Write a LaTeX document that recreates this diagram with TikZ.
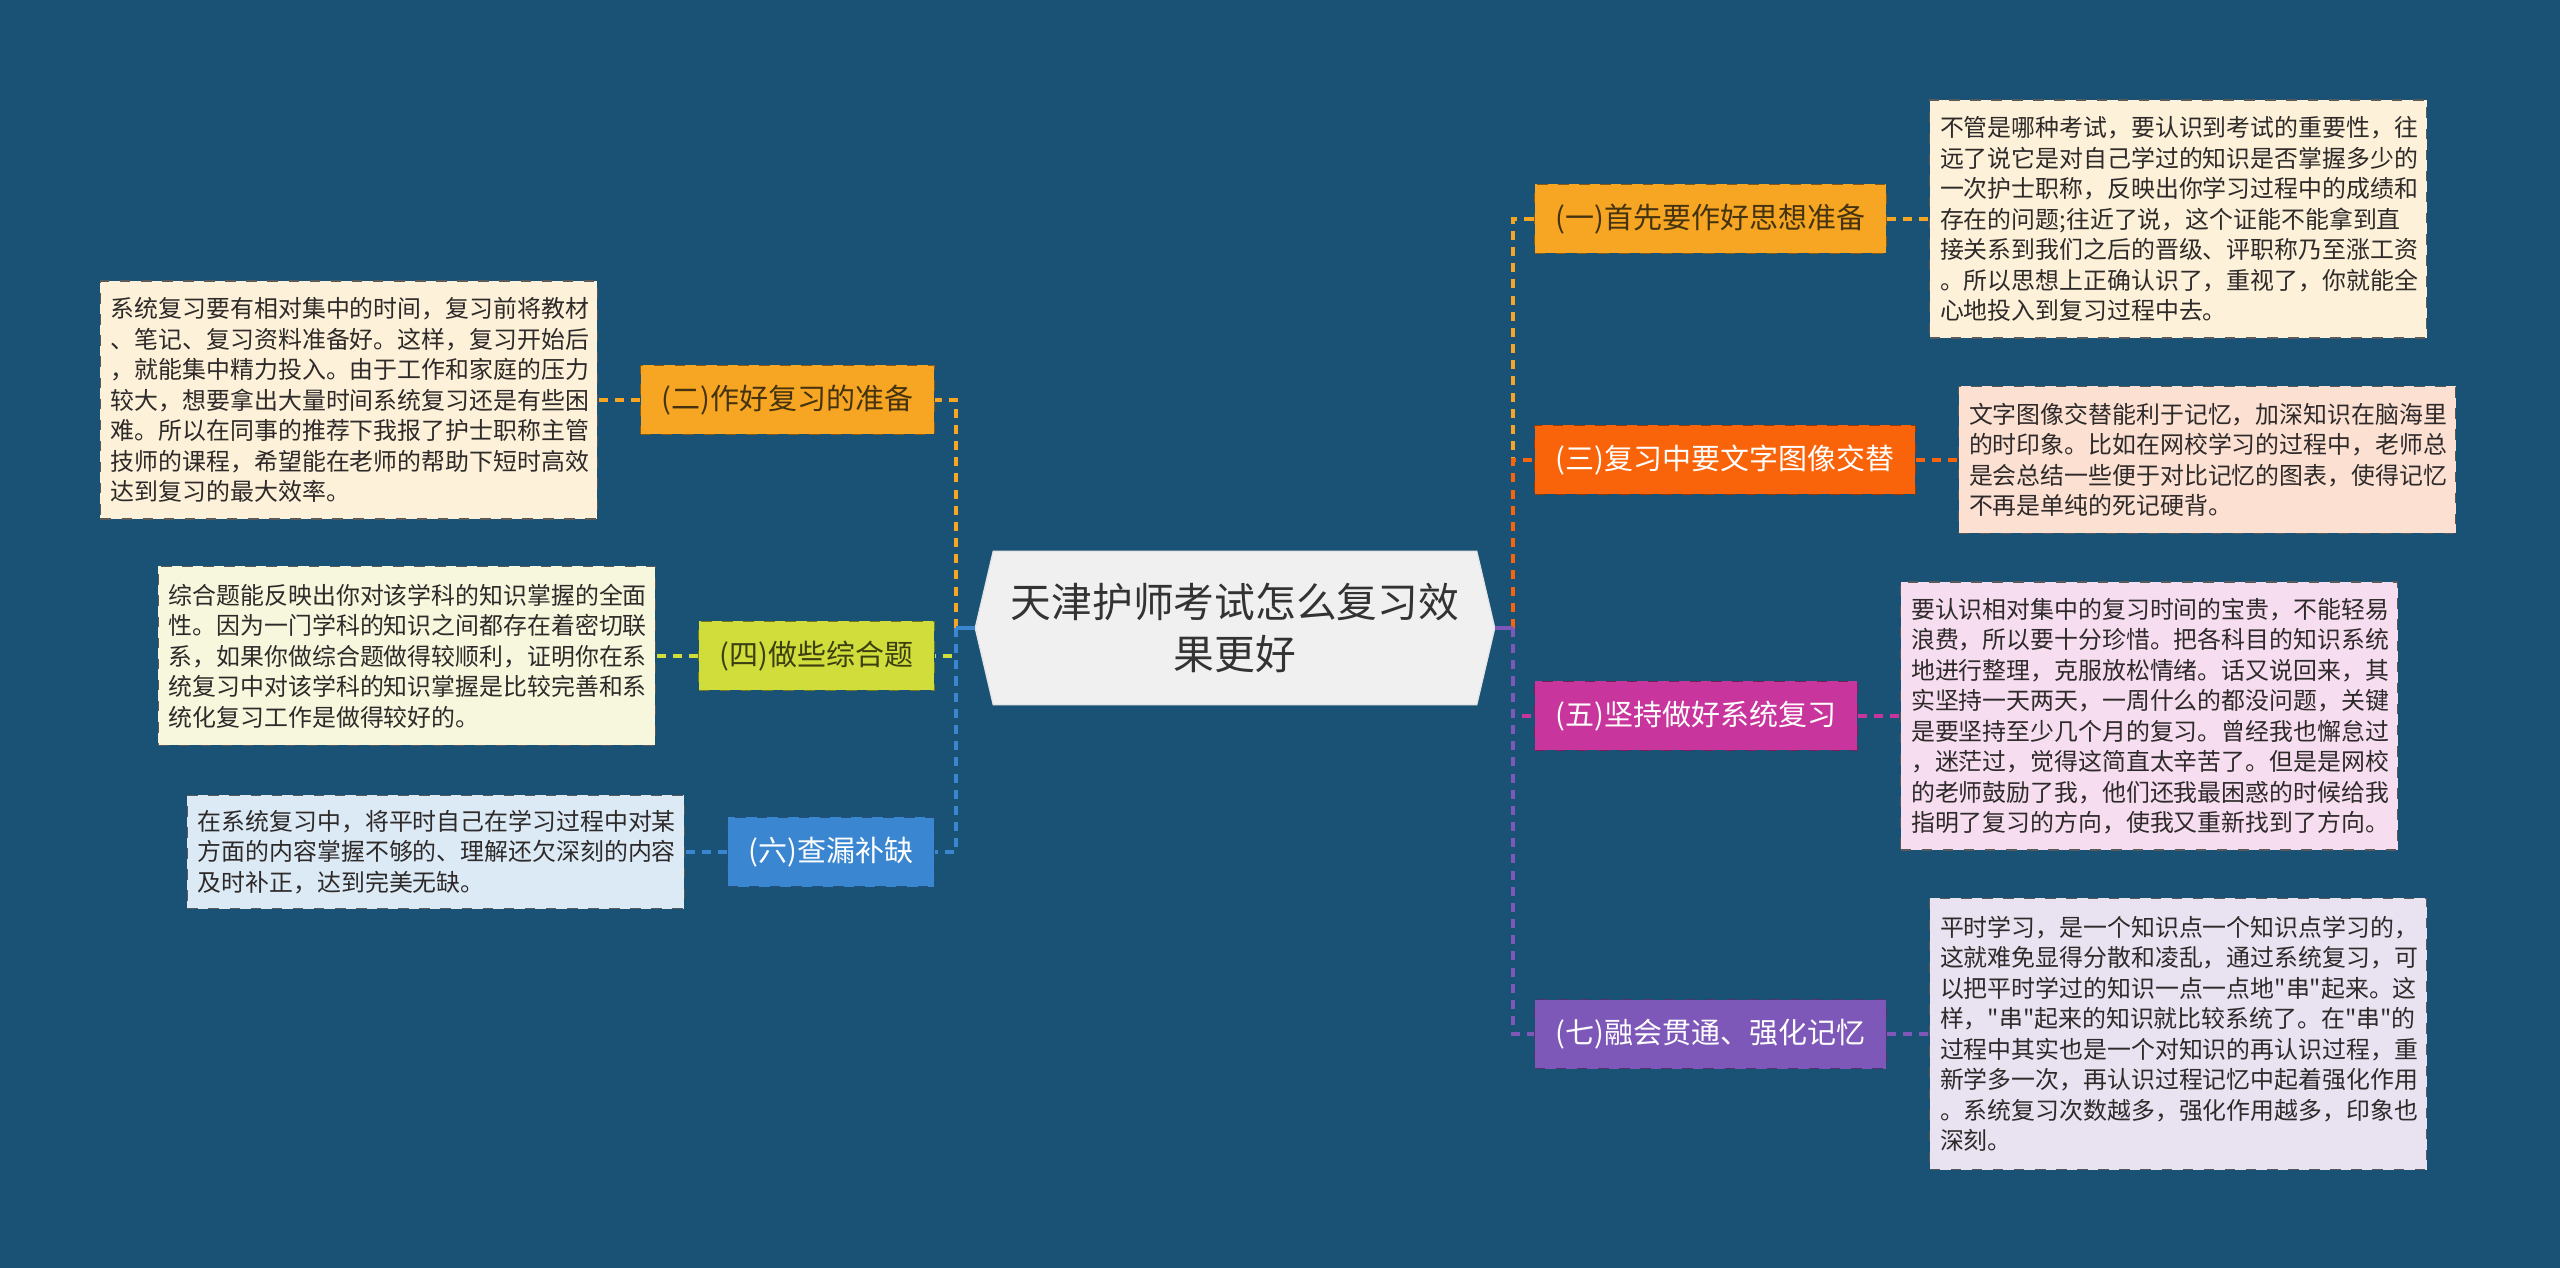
\documentclass[tikz,border=0pt]{standalone}
\usepackage{fontspec}
\newfontfamily\cjk{Noto Sans CJK SC}
\usepackage{xcolor}
\usetikzlibrary{
  positioning,
  backgrounds,
}

\definecolor{bgblue}{HTML}{1A5276}
\definecolor{rootgray}{HTML}{F0F0F0}
\definecolor{rootink}{HTML}{333333}
\definecolor{amber}{HTML}{F6A623}
\definecolor{amberpale}{HTML}{FDF1D9}
\definecolor{amberink}{HTML}{45320F}
\definecolor{flame}{HTML}{F9640A}
\definecolor{flamepale}{HTML}{FCE1D3}
\definecolor{leaf}{HTML}{D0DD3B}
\definecolor{leafpale}{HTML}{F6F7DD}
\definecolor{leafink}{HTML}{3C3F10}
\definecolor{rose}{HTML}{C8359C}
\definecolor{rosepale}{HTML}{F6DDEF}
\definecolor{sky}{HTML}{3A86D0}
\definecolor{skypale}{HTML}{DCEAF6}
\definecolor{grape}{HTML}{7E58B8}
\definecolor{grapepale}{HTML}{E8E2F1}
\definecolor{noteink}{HTML}{2E2A2A}

\begin{document}
\begin{tikzpicture}[
  node distance=0.42cm,
  every node/.style={font=\cjk},
  root/.style={
    rectangle, minimum width=4.82cm, minimum height=1.52cm, inner sep=0pt,
    align=center, text=rootink,
    font=\cjk\fontsize{11.6pt}{14.8pt}\selectfont,
  },
  topic/.style={
    rectangle, draw, dashed, line width=0.4pt,
    minimum height=0.69cm, inner xsep=0.21cm, inner ysep=0pt,
    font=\cjk\fontsize{8.25pt}{10pt}\selectfont,
  },
  note/.style={
    rectangle, draw=gray!70!black, dashed, line width=0.35pt,
    text width=4.76cm, inner xsep=0.105cm, inner ysep=0pt, align=left,
    text=noteink, font=\cjk\fontsize{6.8pt}{8.68pt}\selectfont,
  },
  link/.style={line width=1pt, dash pattern=on 2.6pt off 2pt},
  stub/.style={line width=1pt},
]
  % Central topic
  \node[root] (root) at (12.35,-6.28) {天津护师考试怎么复习效\\果更好};
  \coordinate (rootw) at ([xshift=-0.18cm]root.west);
  \coordinate (roote) at ([xshift=0.18cm]root.east);
  \coordinate (ltrunk) at (9.56,-6.28);
  \coordinate (rtrunk) at (15.13,-6.28);

  % Canvas and hexagon behind the text
  \begin{scope}[on background layer]
    \fill[bgblue] (0,0) rectangle (25.6,-12.68);
    \filldraw[fill=rootgray, draw=white!80!gray, line width=0.4pt]
      (root.north west) -- (root.north east) -- (roote)
      -- (root.south east) -- (root.south west) -- (rootw) -- cycle;
  \end{scope}
  \useasboundingbox (0,0) rectangle (25.6,-12.68);

  % Right branches
  \node[topic, anchor=west, fill=amber, draw=amber!55!black, text=amberink]
    (b1) at (15.34,-2.19) {(一)首先要作好思想准备};
  \node[topic, anchor=west, fill=flame, draw=flame!60!black, text=white]
    (b3) at (15.34,-4.60) {(三)复习中要文字图像交替};
  \node[topic, anchor=west, fill=rose, draw=rose!60!black, text=white]
    (b5) at (15.34,-7.16) {(五)坚持做好系统复习};
  \node[topic, anchor=west, fill=grape, draw=grape!60!black, text=white]
    (b7) at (15.34,-10.34) {(七)融会贯通、强化记忆};

  % Left branches
  \node[topic, anchor=east, fill=amber, draw=amber!55!black, text=amberink]
    (b2) at (9.35,-4.00) {(二)作好复习的准备};
  \node[topic, anchor=east, fill=leaf, draw=leaf!55!black, text=leafink]
    (b4) at (9.35,-6.56) {(四)做些综合题};
  \node[topic, anchor=east, fill=sky, draw=sky!60!black, text=white]
    (b6) at (9.35,-8.52) {(六)查漏补缺};

  % Notes
  \node[note, fill=amberpale, minimum height=2.38cm, right=of b1] (d1) {%
    不管是哪种考试，要认识到考试的重要性，往\\
    远了说它是对自己学过的知识是否掌握多少的\\
    一次护士职称，反映出你学习过程中的成绩和\\
    存在的问题;往近了说，这个证能不能拿到直\\
    接关系到我们之后的晋级、评职称乃至涨工资\\
    。所以思想上正确认识了，重视了，你就能全\\
    心地投入到复习过程中去。};
  \node[note, fill=flamepale, minimum height=1.47cm, right=of b3] (d3) {%
    文字图像交替能利于记忆，加深知识在脑海里\\
    的时印象。比如在网校学习的过程中，老师总\\
    是会总结一些便于对比记忆的图表，使得记忆\\
    不再是单纯的死记硬背。};
  \node[note, fill=rosepale, minimum height=2.68cm, right=of b5] (d5) {%
    要认识相对集中的复习时间的宝贵，不能轻易\\
    浪费，所以要十分珍惜。把各科目的知识系统\\
    地进行整理，克服放松情绪。话又说回来，其\\
    实坚持一天两天，一周什么的都没问题，关键\\
    是要坚持至少几个月的复习。曾经我也懈怠过\\
    ，迷茫过，觉得这简直太辛苦了。但是是网校\\
    的老师鼓励了我，他们还我最困惑的时候给我\\
    指明了复习的方向，使我又重新找到了方向。};
  \node[note, fill=grapepale, minimum height=2.71cm, right=of b7] (d7) {%
    平时学习，是一个知识点一个知识点学习的，\\
    这就难免显得分散和凌乱，通过系统复习，可\\
    以把平时学过的知识一点一点地"串"起来。这\\
    样，"串"起来的知识就比较系统了。在"串"的\\
    过程中其实也是一个对知识的再认识过程，重\\
    新学多一次，再认识过程记忆中起着强化作用\\
    。系统复习次数越多，强化作用越多，印象也\\
    深刻。};
  \node[note, fill=amberpale, minimum height=2.38cm, left=of b2] (d2) {%
    系统复习要有相对集中的时间，复习前将教材\\
    、笔记、复习资料准备好。这样，复习开始后\\
    ，就能集中精力投入。由于工作和家庭的压力\\
    较大，想要拿出大量时间系统复习还是有些困\\
    难。所以在同事的推荐下我报了护士职称主管\\
    技师的课程，希望能在老师的帮助下短时高效\\
    达到复习的最大效率。};
  \node[note, fill=leafpale, minimum height=1.79cm, left=of b4] (d4) {%
    综合题能反映出你对该学科的知识掌握的全面\\
    性。因为一门学科的知识之间都存在着密切联\\
    系，如果你做综合题做得较顺利，证明你在系\\
    统复习中对该学科的知识掌握是比较完善和系\\
    统化复习工作是做得较好的。};
  \node[note, fill=skypale, minimum height=1.13cm, left=of b6] (d6) {%
    在系统复习中，将平时自己在学习过程中对某\\
    方面的内容掌握不够的、理解还欠深刻的内容\\
    及时补正，达到完美无缺。};

  % Root to branches
  \draw[link, amber] (rtrunk) |- (b1);
  \draw[link, flame] (rtrunk) |- (b3);
  \draw[link, rose] (rtrunk) |- (b5);
  \draw[link, grape] (rtrunk) |- (b7);
  \draw[stub, grape] (roote) -- (rtrunk);
  \draw[link, amber] (ltrunk) |- (b2);
  \draw[link, leaf] (ltrunk) |- (b4);
  \draw[link, sky] (ltrunk) |- (b6);
  \draw[stub, sky] (rootw) -- (ltrunk);

  % Branches to notes
  \draw[link, amber] (b1) -- (d1);
  \draw[link, flame] (b3) -- (d3);
  \draw[link, rose] (b5) -- (d5);
  \draw[link, grape] (b7) -- (d7);
  \draw[link, amber] (b2) -- (d2);
  \draw[link, leaf] (b4) -- (d4);
  \draw[link, sky] (b6) -- (d6);

\end{tikzpicture}
\end{document}
